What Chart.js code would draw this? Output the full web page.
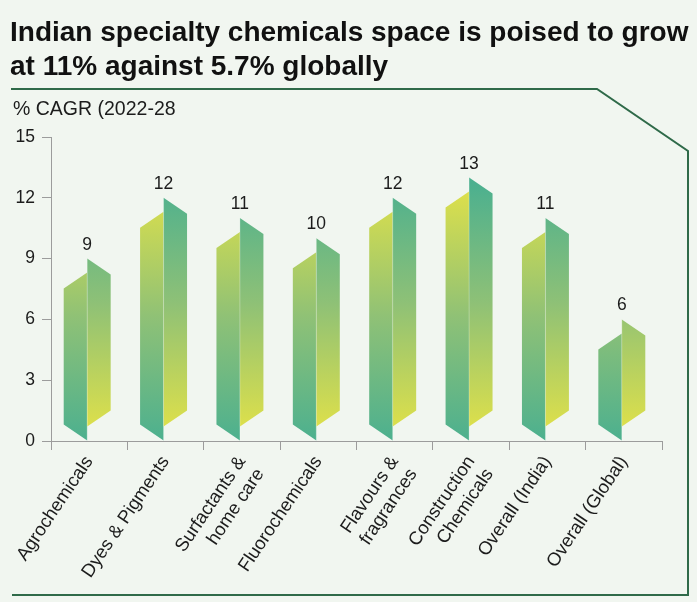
<!DOCTYPE html>
<html>
<head>
<meta charset="utf-8">
<script src="https://cdn.jsdelivr.net/npm/chart.js@4.4.0/dist/chart.umd.min.js"></script>
<style>
  html, body { margin: 0; padding: 0; background: #f1f6f0; }
  #wrap { position: relative; width: 697px; height: 602px; overflow: hidden; font-family: "Liberation Sans", Arial, sans-serif; }
  #chart { position: absolute; left: 0; top: 0; }
  #title { position: absolute; left: 10px; top: 15px; font-size: 28px; font-weight: bold; line-height: 34px; color: #111; white-space: nowrap; }
  #unit { position: absolute; left: 13px; top: 96px; font-size: 19.5px; line-height: 24px; color: #1c1c1c; }
</style>
</head>
<body>
<div id="wrap">
  <canvas id="chart" width="697" height="602"></canvas>
  <div id="title">Indian specialty chemicals space is poised to grow<br>at 11% against 5.7% globally</div>
  <div id="unit">% CAGR (2022-28</div>
</div>
<script>
var categories = [
    'Agrochemicals',
    'Dyes & Pigments',
    ['Surfactants &', 'home care'],
    'Fluorochemicals',
    ['Flavours &', 'fragrances'],
    ['Construction', 'Chemicals'],
    'Overall (India)',
    'Overall (Global)'
];
var cagrValues = [9, 12, 11, 10, 12, 13, 11, 6];
var yTicks = [0, 3, 6, 9, 12, 15];

var teal = '#4cb08f';
var midGreen = '#8fc176';
var yellow = '#dbdf4c';
var axisGray = '#9c9c9c';
var textColor = '#1c1c1c';

// page background and the green frame line
var framePlugin = {
    id: 'frame',
    beforeDraw: function (chart) {
        var ctx = chart.ctx;
        ctx.save();
        ctx.fillStyle = '#f1f6f0';
        ctx.fillRect(0, 0, chart.width, chart.height);
        ctx.strokeStyle = '#2f6a49';
        ctx.lineWidth = 2;
        ctx.beginPath();
        ctx.moveTo(11, 89);
        ctx.lineTo(597, 89);
        ctx.lineTo(688, 151);
        ctx.lineTo(688, 595);
        ctx.lineTo(12, 595);
        ctx.stroke();
        ctx.restore();
    }
};

// each bar is drawn as a folded ribbon
var ribbonPlugin = {
    id: 'ribbons',
    afterDatasetsDraw: function (chart) {
        var ctx = chart.ctx;
        var yScale = chart.scales.y;
        var meta = chart.getDatasetMeta(0);
        var y0 = yScale.getPixelForValue(0);
        var yHigh = yScale.getPixelForValue(12.7);

        var leftGrad = ctx.createLinearGradient(0, y0, 0, yHigh + 10);
        leftGrad.addColorStop(0, teal);
        leftGrad.addColorStop(0.5, midGreen);
        leftGrad.addColorStop(1, yellow);

        var rightGrad = ctx.createLinearGradient(0, yHigh, 0, y0 - 16);
        rightGrad.addColorStop(0, teal);
        rightGrad.addColorStop(0.5, midGreen);
        rightGrad.addColorStop(1, yellow);

        var fold = 14;
        var slope = 16;

        ctx.save();
        meta.data.forEach(function (bar, i) {
            var x = bar.x - 2;
            var top = bar.y;
            var base = bar.base;
            var w = bar.width / 2;

            ctx.fillStyle = leftGrad;
            ctx.beginPath();
            ctx.moveTo(x - w, base - slope);
            ctx.lineTo(x, base);
            ctx.lineTo(x, top + fold);
            ctx.lineTo(x - w, top + fold + slope);
            ctx.closePath();
            ctx.fill();

            ctx.fillStyle = rightGrad;
            ctx.beginPath();
            ctx.moveTo(x, top);
            ctx.lineTo(x + w, top + slope);
            ctx.lineTo(x + w, base - fold - slope);
            ctx.lineTo(x, base - fold);
            ctx.closePath();
            ctx.fill();

            // faint highlight along the fold
            ctx.strokeStyle = 'rgba(255,255,255,0.25)';
            ctx.lineWidth = 1;
            ctx.beginPath();
            ctx.moveTo(x, top);
            ctx.lineTo(x, base);
            ctx.stroke();

            ctx.fillStyle = textColor;
            ctx.font = '17.5px "Liberation Sans", Arial, sans-serif';
            ctx.textAlign = 'center';
            ctx.textBaseline = 'alphabetic';
            ctx.fillText(String(cagrValues[i]), x, top - 9);
        });
        ctx.restore();
    }
};

var ctx = document.getElementById('chart').getContext('2d');
var chartInstance = new Chart(ctx, {
    type: 'bar',
    data: {
        labels: categories,
        datasets: [{
            data: cagrValues,
            backgroundColor: 'rgba(0,0,0,0)',
            borderWidth: 0,
            categoryPercentage: 1,
            barPercentage: 0.615
        }]
    },
    options: {
        responsive: false,
        animation: false,
        layout: { padding: { left: 0, top: 137, right: 35, bottom: 0 } },
        plugins: {
            legend: { display: false },
            tooltip: { enabled: false }
        },
        scales: {
            x: {
                offset: true,
                grid: { drawOnChartArea: false, offset: true, tickLength: 9, color: axisGray },
                border: { color: axisGray },
                ticks: {
                    minRotation: 56,
                    maxRotation: 56,
                    padding: 2,
                    color: textColor,
                    font: { family: '"Liberation Sans", Arial, sans-serif', size: 18.5, lineHeight: 1.2 }
                },
                afterFit: function (scale) { scale.height = 161; }
            },
            y: {
                min: 0,
                max: 15,
                grid: { drawOnChartArea: false, tickLength: 9, color: axisGray },
                border: { color: axisGray },
                ticks: {
                    padding: 7,
                    color: textColor,
                    font: { family: '"Liberation Sans", Arial, sans-serif', size: 17.5 }
                },
                afterBuildTicks: function (scale) {
                    scale.ticks = yTicks.map(function (v) { return { value: v }; });
                },
                afterFit: function (scale) { scale.width = 51; }
            }
        }
    },
    plugins: [framePlugin, ribbonPlugin]
});
</script>
</body>
</html>
